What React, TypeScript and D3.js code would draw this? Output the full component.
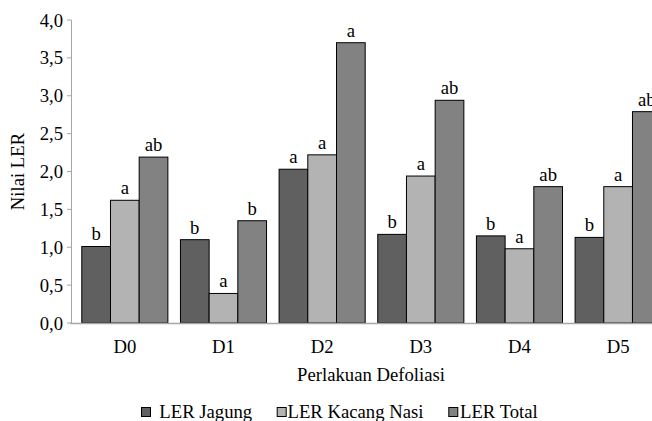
import React from "react";
import * as d3 from "d3";

const categories = ["D0", "D1", "D2", "D3", "D4", "D5"];
const seriesNames = ["LER Jagung", "LER Kacang Nasi", "LER Total"];
const jagung = [1.01, 1.1, 2.03, 1.17, 1.15, 1.13];
const kacang = [1.62, 0.39, 2.22, 1.94, 0.98, 1.8];
const total = [2.19, 1.35, 3.7, 2.94, 1.8, 2.79];
const jagungLetters = ["b", "b", "a", "b", "b", "b"];
const kacangLetters = ["a", "a", "a", "a", "a", "a"];
const totalLetters = ["ab", "b", "a", "ab", "ab", "ab"];
const yTicks = [0, 0.5, 1, 1.5, 2, 2.5, 3, 3.5, 4];
const colors = ["#606060", "#b3b3b3", "#828282"];

const W = 652;
const H = 421;

export default function App() {
  const values = [jagung, kacang, total];
  const letters = [jagungLetters, kacangLetters, totalLetters];
  const step = 98.66;
  const x0 = d3
    .scaleBand()
    .domain(categories)
    .range([75.5, 75.5 + step * categories.length])
    .padding(0);
  const x1 = d3
    .scaleBand()
    .domain(seriesNames)
    .range([0, x0.bandwidth()])
    .paddingInner(0)
    .paddingOuter(0.219);
  const y = d3.scaleLinear().domain([0, 4]).range([323, 20]);
  const fmt = (v: number) => v.toFixed(1).replace(".", ",");

  const legendItems = [
    { sx: 141, tx: 159.3, label: seriesNames[0] },
    { sx: 276.7, tx: 287.5, label: seriesNames[1] },
    { sx: 448.3, tx: 460, label: seriesNames[2] },
  ];

  return (
    <svg
      width={W}
      height={H}
      style={{
        position: "absolute",
        left: 0,
        top: 0,
        background: "#fff",
        fontFamily: '"Liberation Serif"',
        fontSize: "18.7px",
      }}
    >
      <defs>
        <clipPath id="clip">
          <rect x={0} y={0} width={W} height={H} />
        </clipPath>
      </defs>
      {/* y axis */}
      <line x1={71.5} x2={71.5} y1={y(4)} y2={y(0)} stroke="#a6a6a6" strokeWidth={1} />
      {yTicks.map((t) => (
        <g key={t}>
          <line x1={67} x2={71.5} y1={y(t)} y2={y(t)} stroke="#a6a6a6" strokeWidth={1} />
          <text x={63} y={y(t)} dy="0.35em" textAnchor="end" fill="#000">
            {fmt(t)}
          </text>
        </g>
      ))}
      {/* bars */}
      <g clipPath="url(#clip)">
        {categories.map((c, i) => (
          <g key={c} transform={`translate(${x0(c)},0)`}>
            {seriesNames.map((s, j) => {
              const v = values[j][i];
              const bx = x1(s)!;
              return (
                <g key={s}>
                  <rect
                    x={bx}
                    y={y(v)}
                    width={x1.bandwidth()}
                    height={y(0) - y(v)}
                    fill={colors[j]}
                    stroke="#000"
                    strokeWidth={1}
                  />
                  <text
                    x={bx + x1.bandwidth() / 2}
                    y={y(v) - 6}
                    textAnchor="middle"
                    fill="#000"
                  >
                    {letters[j][i]}
                  </text>
                </g>
              );
            })}
          </g>
        ))}
      </g>
      {/* x axis */}
      <line x1={70} x2={W} y1={y(0) + 0.5} y2={y(0) + 0.5} stroke="#a6a6a6" strokeWidth={1.5} />
      {categories.map((c) => (
        <text
          key={c}
          x={x0(c)! + x0.bandwidth() / 2}
          y={352.5}
          textAnchor="middle"
          fill="#000"
        >
          {c}
        </text>
      ))}
      <text x={371} y={381} textAnchor="middle" fill="#000">
        Perlakuan Defoliasi
      </text>
      <text
        transform={`translate(24,${y(2)}) rotate(-90)`}
        textAnchor="middle"
        fill="#000"
      >
        Nilai LER
      </text>
      {/* legend */}
      {legendItems.map((it, j) => (
        <g key={it.label}>
          <rect x={it.sx + 0.5} y={407.5} width={9} height={9} fill={colors[j]} stroke="#000" strokeWidth={1} />
          <text x={it.tx} y={417.5} fill="#000">
            {it.label}
          </text>
        </g>
      ))}
    </svg>
  );
}
